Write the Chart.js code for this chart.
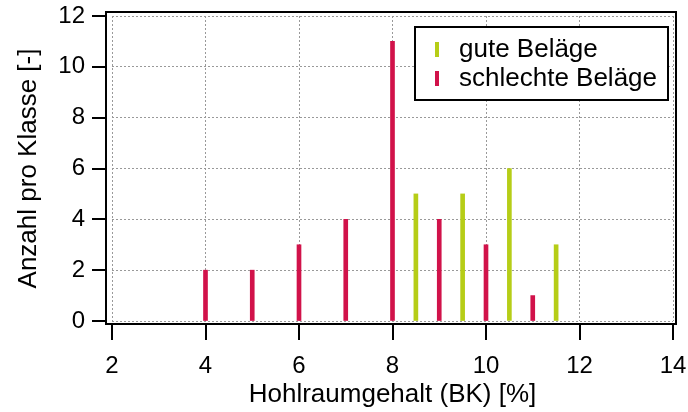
<!DOCTYPE html>
<html>
<head>
<meta charset="utf-8">
<script src="https://cdn.jsdelivr.net/npm/chart.js@4/dist/chart.umd.min.js"></script>
<style>
  html, body { margin: 0; padding: 0; background: #fff; }
  #wrap { width: 688px; height: 412px; }
</style>
</head>
<body>
<div id="wrap"><canvas id="chart" width="688" height="412"></canvas></div>
<script>
// Werte
const badX = [4, 5, 6, 7, 8, 9, 10, 11];
const badCounts = [2, 2, 3, 4, 11, 4, 3, 1];
const goodX = [8.5, 9.5, 10.5, 11.5];
const goodCounts = [5, 5, 6, 3];
const xTicks = [2, 4, 6, 8, 10, 12, 14];
const yTicks = [0, 2, 4, 6, 8, 10, 12];
const labels = ['gute Beläge', 'schlechte Beläge'];

const red = '#d1124a';
const green = '#b6cd17';
const font = "'Liberation Sans', Arial, sans-serif";

const toPoints = (xs, ys) => xs.map((v, i) => ({ x: v, y: ys[i] }));

// Rahmen, Ticks aussen und Legende
const framePlugin = {
  id: 'frame',
  afterDraw(chart) {
    const { ctx, chartArea: a, scales: { x, y } } = chart;
    const L = a.left - 6, R = a.right + 3, T = a.top - 4, B = a.bottom + 3;
    ctx.save();
    ctx.strokeStyle = '#000';
    ctx.lineWidth = 2;
    ctx.strokeRect(L, T, R - L, B - T);
    ctx.beginPath();
    xTicks.forEach(v => {
      const px = Math.round(x.getPixelForValue(v));
      ctx.moveTo(px, B);
      ctx.lineTo(px, B + 16);
    });
    yTicks.forEach(v => {
      const py = Math.round(y.getPixelForValue(v));
      ctx.moveTo(L, py);
      ctx.lineTo(L - 14, py);
    });
    ctx.stroke();

    // Legende
    const bx = 415, by = 27, bw = 253, bh = 73;
    ctx.fillStyle = '#fff';
    ctx.fillRect(bx, by, bw, bh);
    ctx.strokeRect(bx, by, bw, bh);
    ctx.font = '26px ' + font;
    ctx.textBaseline = 'middle';
    chart.data.datasets.forEach((ds, i) => {
      const cy = by + 22 + i * 29;
      ctx.fillStyle = ds.backgroundColor;
      ctx.fillRect(435, cy - 7, 4, 15);
      ctx.fillStyle = '#000';
      ctx.fillText(ds.label, 459, cy + 1);
    });
    ctx.restore();
  }
};

new Chart(document.getElementById('chart'), {
  type: 'bar',
  data: {
    datasets: [
      { label: labels[0], data: toPoints(goodX, goodCounts), backgroundColor: green },
      { label: labels[1], data: toPoints(badX, badCounts), backgroundColor: red }
    ]
  },
  options: {
    responsive: false,
    animation: false,
    barThickness: 4,
    grouped: false,
    layout: { padding: { top: 16, right: 15, left: 0, bottom: 0 } },
    plugins: { legend: { display: false }, tooltip: { enabled: false } },
    scales: {
      x: {
        type: 'linear',
        min: xTicks[0], max: xTicks[xTicks.length - 1],
        offset: false,
        afterFit: s => { s.height = 91; s.paddingLeft = 0; s.paddingRight = 0; },
        grid: { offset: false, color: '#999', lineWidth: 1, tickLength: 20, tickColor: 'rgba(0,0,0,0)' },
        border: { display: false, dash: [2, 2] },
        ticks: { stepSize: 2, autoSkip: false, color: '#000', font: { family: font, size: 24 }, padding: 11, maxRotation: 0 },
        title: { display: true, text: 'Hohlraumgehalt (BK) [%]', color: '#000', font: { family: font, size: 26 }, padding: { top: 0, bottom: 2 } }
      },
      y: {
        min: yTicks[0], max: yTicks[yTicks.length - 1],
        afterFit: s => { s.width = 112; s.paddingTop = 0; s.paddingBottom = 0; },
        grid: { color: '#999', lineWidth: 1, tickLength: 20, tickColor: 'rgba(0,0,0,0)' },
        border: { display: false, dash: [2, 2] },
        ticks: { stepSize: 2, autoSkip: false, color: '#000', font: { family: font, size: 24 }, padding: 7 },
        title: { display: true, text: 'Anzahl pro Klasse [-]', color: '#000', font: { family: font, size: 26 }, padding: { top: 13, bottom: 0 } }
      }
    }
  },
  plugins: [framePlugin]
});
</script>
</body>
</html>
